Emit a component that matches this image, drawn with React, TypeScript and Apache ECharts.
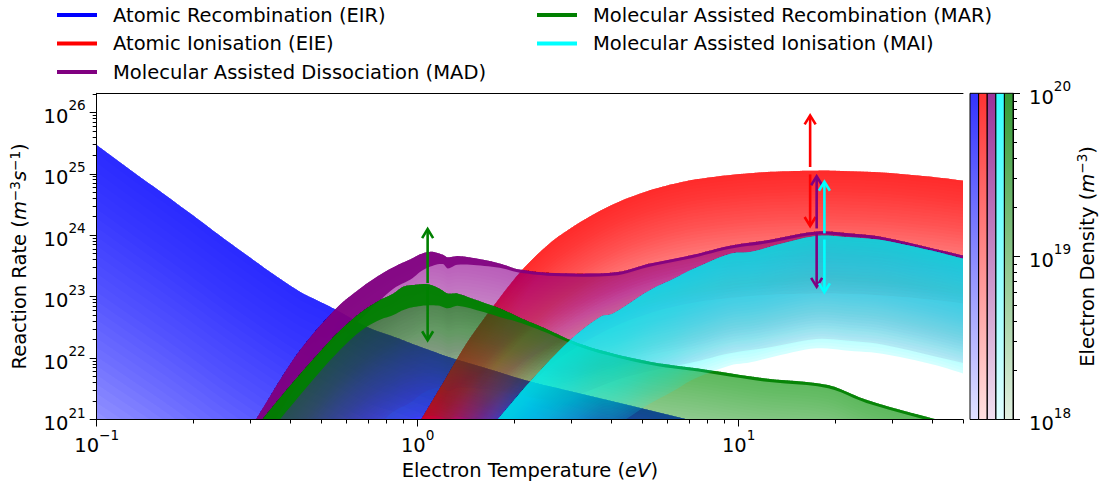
import React, { useEffect, useRef } from 'react';
import * as echarts from 'echarts';

const FONT = "'DejaVu Sans', sans-serif";

// ---------- data (Te in eV, rates as log10 of m^-3 s^-1) ----------
// HI: upper edge (ne = 1e20), MID: lower edge of the dark top band, LO: lower edge (ne = 1e18)
const EIR_TE = [0.1, 0.13, 0.16, 0.2, 0.25, 0.3, 0.35, 0.43, 0.5, 0.56, 0.7, 0.85, 1.0, 1.28, 1.6, 2.24, 3, 4.5, 6.7, 10];
const EIR_HI = [25.47, 25.03, 24.69, 24.32, 23.94, 23.64, 23.39, 23.08, 22.91, 22.78, 22.5, 22.34, 22.2, 22.0, 21.85, 21.62, 21.46, 21.24, 21.02, 20.8];
const EIR_LO = [19.47, 19.1, 18.8, 18.45, 18.1, 17.85, 17.65, 17.4, 17.3, 17.2, 17.0, 16.9, 16.8, 16.7, 16.6, 16.5, 16.4, 16.3, 16.2, 16.0];

const EIE_TE = [0.95, 1.03, 1.2, 1.42, 1.7, 2.11, 2.58, 2.91, 3.5, 4.17, 4.7, 5.6, 6.7, 7.6, 9.4, 11.5, 13.8, 17, 20, 28, 40, 50];
const EIE_HI = [20.71, 21.02, 21.6, 22.24, 22.81, 23.43, 23.87, 24.07, 24.33, 24.53, 24.64, 24.77, 24.87, 24.92, 24.98, 25.02, 25.04, 25.05, 25.05, 25.02, 24.95, 24.89];
const EIE_LO = [18.71, 19.02, 19.6, 20.24, 20.81, 21.43, 21.87, 22.07, 22.33, 22.53, 22.64, 22.77, 22.87, 22.92, 22.98, 23.02, 23.04, 23.05, 23.05, 23.02, 22.95, 22.89];

const MAD_TE = [0.29, 0.315, 0.415, 0.55, 0.66, 0.75, 0.84, 0.95, 1.03, 1.11, 1.2, 1.24, 1.33, 1.53, 1.8, 2.08, 2.8, 4.2, 5.2, 7.2, 9.4, 12, 17.5, 22, 28, 50];
const MAD_HI = [20.72, 21.02, 22.02, 22.78, 23.13, 23.33, 23.48, 23.61, 23.7, 23.73, 23.68, 23.64, 23.66, 23.62, 23.54, 23.44, 23.38, 23.4, 23.53, 23.68, 23.83, 23.91, 24.06, 24.03, 23.97, 23.67];
const MAD_MID = [20.2, 20.5, 21.5, 22.28, 22.62, 22.9, 23.13, 23.28, 23.42, 23.5, 23.53, 23.46, 23.52, 23.51, 23.47, 23.39, 23.33, 23.35, 23.48, 23.63, 23.78, 23.86, 24.01, 23.98, 23.92, 23.62];
const MAD_LO = [18.2, 18.5, 19.5, 20.28, 20.62, 20.9, 21.13, 21.28, 21.42, 21.5, 21.53, 21.46, 21.52, 21.51, 21.47, 21.39, 21.33, 21.65, 21.78, 21.93, 22.08, 22.16, 22.31, 22.28, 22.22, 21.92];

const MAR_TE = [0.3, 0.33, 0.4, 0.48, 0.56, 0.66, 0.76, 0.84, 0.9, 0.97, 1.08, 1.17, 1.24, 1.33, 1.53, 1.8, 2.1, 2.5, 3, 3.7, 5.3, 7.5, 12, 19, 25, 40, 50];
const MAR_HI = [20.75, 21.02, 21.55, 22.02, 22.4, 22.73, 22.94, 23.05, 23.16, 23.19, 23.2, 23.13, 23.05, 23.05, 22.94, 22.81, 22.65, 22.48, 22.29, 22.13, 21.94, 21.83, 21.67, 21.56, 21.32, 21.02, 20.9];
const MAR_MID = [20.4, 20.67, 21.2, 21.69, 22.08, 22.43, 22.62, 22.7, 22.78, 22.83, 22.86, 22.85, 22.81, 22.85, 22.78, 22.67, 22.57, 22.42, 22.24, 22.08, 21.89, 21.78, 21.62, 21.51, 21.27, 20.97, 20.85];
const MAR_LO = [18.6, 18.87, 19.4, 19.89, 20.28, 20.63, 20.82, 20.9, 20.98, 21.03, 21.06, 21.05, 21.01, 21.05, 20.98, 20.87, 20.77, 20.62, 20.44, 20.28, 20.09, 19.98, 19.82, 19.71, 19.47, 19.17, 19.05];

const MAI_TE = [1.68, 1.8, 2.24, 2.98, 3.7, 4.07, 5.3, 6.2, 7.2, 9.4, 10.9, 13.5, 17.5, 22, 28, 40, 50];
const MAI_HI = [20.87, 21.04, 21.62, 22.29, 22.67, 22.73, 23.11, 23.28, 23.45, 23.7, 23.73, 23.86, 23.99, 23.97, 23.92, 23.75, 23.62];
const MAI_LO = [19.0, 19.2, 19.77, 20.44, 20.82, 20.88, 21.26, 21.45, 21.65, 21.88, 21.93, 22.05, 22.16, 22.12, 22.07, 21.9, 21.75];

// double arrows (each drawn as two single-headed arrows)
const ARROW_TE = [1.074, 1.074, 16.7, 16.7, 17.5, 17.5, 18.5, 18.5];
const ARROW_FROM = [23.22, 23.16, 25.11, 24.99, 24.11, 24.03, 24.03, 23.93];
const ARROW_TO = [24.1, 22.29, 25.95, 24.15, 24.96, 23.16, 24.87, 23.07];
const ARROW_PROC = ['MAR', 'MAR', 'EIE', 'EIE', 'MAD', 'MAD', 'MAI', 'MAI'];

// axes
const X_TICKS = [-1, 0, 1];
const Y_TICKS = [21, 22, 23, 24, 25, 26];
const CB_TICKS = [18, 19, 20];
const CB_ORDER = ['EIR', 'EIE', 'MAD', 'MAI', 'MAR'];

const NAMES: Record<string, string> = {
  EIR: 'Atomic Recombination (EIR)',
  EIE: 'Atomic Ionisation (EIE)',
  MAD: 'Molecular Assisted Dissociation (MAD)',
  MAR: 'Molecular Assisted Recombination (MAR)',
  MAI: 'Molecular Assisted Ionisation (MAI)',
};

const RGB: Record<string, number[]> = {
  EIR: [0, 0, 255],
  EIE: [255, 0, 0],
  MAD: [128, 0, 128],
  MAR: [0, 128, 0],
  MAI: [0, 255, 255],
};

const X_MIN = -1;
const X_MAX = Math.log10(50);
const Y_MIN = 21;
const Y_MAX = 26.31;

const rgba = (c: number[], a: number) => `rgba(${c[0]},${c[1]},${c[2]},${a})`;

function minorTicks(decades: number[], max: number) {
  const out: number[] = [];
  decades.forEach((e) => {
    for (let k = 2; k <= 9; k++) {
      const v = e + Math.log10(k);
      if (v <= max + 1e-9) out.push(v);
    }
  });
  return out;
}

const supLabel = (v: number) => {
  const n = Math.round(v);
  const s = n < 0 ? '\u2212' + Math.abs(n) : String(n);
  return `{b|10}{s|${s}}`;
};

const TICK_RICH = {
  b: { fontFamily: FONT, fontSize: 19.5, lineHeight: 28, verticalAlign: 'bottom', color: '#000' },
  s: { fontFamily: FONT, fontSize: 13.6, lineHeight: 14, verticalAlign: 'top', color: '#000' },
};

const NAME_RICH = {
  n: { fontFamily: FONT, fontSize: 19.5, lineHeight: 22, verticalAlign: 'bottom', color: '#000' },
  i: { fontFamily: FONT, fontSize: 19.5, lineHeight: 22, verticalAlign: 'bottom', fontStyle: 'italic', color: '#000' },
  s: { fontFamily: FONT, fontSize: 13.6, lineHeight: 12, verticalAlign: 'top', color: '#000' },
};

// Smooth rendering of a curve given at the read points (cubic Hermite in log-log space,
// purely a drawing aid like a smoothed line; the data points themselves are untouched).
function smoothCurve(xs: number[], ys: number[], steps: number) {
  const n = xs.length;
  const m: number[] = [];
  for (let i = 0; i < n; i++) {
    const a = Math.max(0, i - 1);
    const b = Math.min(n - 1, i + 1);
    m.push((ys[b] - ys[a]) / (xs[b] - xs[a]));
  }
  const out: number[][] = [];
  for (let i = 0; i < n - 1; i++) {
    const h = xs[i + 1] - xs[i];
    for (let s = 0; s < steps; s++) {
      const t = s / steps;
      const t2 = t * t;
      const t3 = t2 * t;
      const h00 = 2 * t3 - 3 * t2 + 1;
      const h10 = t3 - 2 * t2 + t;
      const h01 = -2 * t3 + 3 * t2;
      const h11 = t3 - t2;
      out.push([xs[i] + t * h, h00 * ys[i] + h10 * h * m[i] + h01 * ys[i + 1] + h11 * h * m[i + 1]]);
    }
  }
  out.push([xs[n - 1], ys[n - 1]]);
  return out;
}

function bandRender(te: number[], hi: number[], lo: number[], mid: number[] | null, rgb: number[], K: number, a: number, base: number, darkA: number) {
  return (_params: any, api: any) => {
    const lx = te.map((t) => Math.log10(t));
    const STEPS = 6;
    const top = smoothCurve(lx, hi, STEPS).map((p) => api.coord(p));
    const bottom = smoothCurve(lx, lo, STEPS).map((p) => api.coord(p));
    const children: any[] = [];
    const layer = (f: number) =>
      top.map((p, i) => [p[0], p[1] + f * (bottom[i][1] - p[1])]).reverse();
    children.push({ type: 'polygon', silent: true, shape: { points: top.concat(layer(1)) }, style: { fill: rgba(rgb, base), stroke: null } });
    for (let j = 1; j <= K; j++) {
      children.push({ type: 'polygon', silent: true, shape: { points: top.concat(layer(j / K)) }, style: { fill: rgba(rgb, a), stroke: null } });
    }
    if (mid) {
      const midPts = smoothCurve(lx, mid, STEPS).map((p) => api.coord(p)).reverse();
      children.push({ type: 'polygon', silent: true, shape: { points: top.concat(midPts) }, style: { fill: rgba(rgb, darkA), stroke: null } });
    }
    return { type: 'group', children };
  };
}

function bandSeries(key: string, te: number[], hi: number[], lo: number[], mid: number[] | null, K: number, a: number, base: number, darkA: number) {
  return {
    type: 'custom',
    name: NAMES[key],
    xAxisIndex: 0,
    yAxisIndex: 0,
    clip: true,
    silent: true,
    itemStyle: { color: rgba(RGB[key], 1) },
    data: [[0, 23]],
    renderItem: bandRender(te, hi, lo, mid, RGB[key], K, a, base, darkA),
  };
}

export default function App() {
  const ref = useRef<HTMLDivElement>(null);

  useEffect(() => {
    if (!ref.current) return;
    const chart = echarts.init(ref.current, undefined, { renderer: 'svg' });

    const X_MINOR = minorTicks([-1, 0, 1], X_MAX);
    const Y_MINOR = minorTicks([21, 22, 23, 24, 25, 26], Y_MAX);
    const CB_MINOR = minorTicks([18, 19], 20);

    const axisLine = { show: true, onZero: false, lineStyle: { color: '#000', width: 1 } };
    const noLine = { show: false, onZero: false };
    const legendText = { fontFamily: FONT, fontSize: 19.5, color: '#000', lineHeight: 20, padding: [0, 0, 0, 11] };

    const option: any = {
      animation: false,
      backgroundColor: '#fff',
      textStyle: { fontFamily: FONT },
      legend: [
        {
          data: [NAMES.EIR, NAMES.EIE, NAMES.MAD],
          orient: 'vertical', left: 57, top: 5, padding: 0, itemWidth: 40, itemHeight: 4, itemGap: 8.5,
          icon: 'rect', selectedMode: false, textStyle: legendText,
        },
        {
          data: [NAMES.MAR, NAMES.MAI],
          orient: 'vertical', left: 537, top: 5, padding: 0, itemWidth: 40, itemHeight: 4, itemGap: 8.5,
          icon: 'rect', selectedMode: false, textStyle: legendText,
        },
      ],
      grid: [
        { left: 96.7, right: 140, top: 93.3, bottom: 68.5, containLabel: false, outerBoundsMode: 'none' },
        { left: 970, right: 90, top: 93.3, bottom: 68.5, containLabel: false, outerBoundsMode: 'none' },
      ],
      xAxis: [
        {
          type: 'value', gridIndex: 0, min: X_MIN, max: X_MAX, position: 'bottom', z: 10,
          axisLine,
          axisTick: { show: true, customValues: X_TICKS, length: 7, lineStyle: { color: '#000', width: 1 } },
          axisLabel: { show: true, customValues: X_TICKS, formatter: supLabel, rich: TICK_RICH, margin: 8 },
          splitLine: { show: false },
          name: '{n|Electron Temperature (}{i|eV}{n|)}',
          nameLocation: 'middle', nameGap: 37,
          nameTextStyle: { rich: NAME_RICH },
        },
        {
          type: 'value', gridIndex: 0, min: X_MIN, max: X_MAX, position: 'bottom', z: 10,
          axisLine: noLine,
          axisTick: { show: true, customValues: X_MINOR, length: 4, lineStyle: { color: '#000', width: 1 } },
          axisLabel: { show: false },
          splitLine: { show: false },
        },
        {
          type: 'value', gridIndex: 0, min: X_MIN, max: X_MAX, position: 'top', z: 10,
          axisLine,
          axisTick: { show: false },
          axisLabel: { show: false },
          splitLine: { show: false },
        },
        {
          type: 'value', gridIndex: 1, min: 0, max: 5, show: false,
          axisLine: noLine,
        },
      ],
      yAxis: [
        {
          type: 'value', gridIndex: 0, min: Y_MIN, max: Y_MAX, position: 'left', z: 10,
          axisLine,
          axisTick: { show: true, customValues: Y_TICKS, length: 7, lineStyle: { color: '#000', width: 1 } },
          axisLabel: { show: true, customValues: Y_TICKS, formatter: supLabel, rich: TICK_RICH, margin: 11 },
          splitLine: { show: false },
          name: '{n|Reaction Rate (}{i|m}{s|\u22123}{i|s}{s|\u22121}{n|)}',
          nameLocation: 'middle', nameGap: 67, nameRotate: 90,
          nameTextStyle: { rich: NAME_RICH },
        },
        {
          type: 'value', gridIndex: 0, min: Y_MIN, max: Y_MAX, position: 'left', z: 10,
          axisLine: noLine,
          axisTick: { show: true, customValues: Y_MINOR, length: 4, lineStyle: { color: '#000', width: 1 } },
          axisLabel: { show: false },
          splitLine: { show: false },
        },
        {
          type: 'value', gridIndex: 1, min: 18, max: 20, position: 'right', z: 10,
          axisLine,
          axisTick: { show: true, customValues: CB_TICKS, length: 7, lineStyle: { color: '#000', width: 1 } },
          axisLabel: { show: true, customValues: CB_TICKS, formatter: supLabel, rich: TICK_RICH, margin: 16 },
          splitLine: { show: false },
          name: '{n|Electron Density (}{i|m}{s|\u22123}{n|)}',
          nameLocation: 'middle', nameGap: 61, nameRotate: 90,
          nameTextStyle: { rich: NAME_RICH },
        },
        {
          type: 'value', gridIndex: 1, min: 18, max: 20, position: 'right', z: 10,
          axisLine: noLine,
          axisTick: { show: true, customValues: CB_MINOR, length: 4, lineStyle: { color: '#000', width: 1 } },
          axisLabel: { show: false },
          splitLine: { show: false },
        },
      ],
      series: [
        bandSeries('EIR', EIR_TE, EIR_HI, EIR_LO, null, 40, 0.0364, 0.12, 0),
        bandSeries('EIE', EIE_TE, EIE_HI, EIE_LO, null, 40, 0.0364, 0.12, 0),
        bandSeries('MAD', MAD_TE, MAD_HI, MAD_LO, MAD_MID, 40, 0.0189, 0.08, 0.9),
        bandSeries('MAR', MAR_TE, MAR_HI, MAR_LO, MAR_MID, 40, 0.0189, 0.08, 0.92),
        bandSeries('MAI', MAI_TE, MAI_HI, MAI_LO, null, 40, 0.0364, 0.14, 0),
        {
          type: 'custom',
          xAxisIndex: 0,
          yAxisIndex: 0,
          silent: true,
          z: 5,
          data: ARROW_TE.map((t, i) => [Math.log10(t), ARROW_FROM[i], ARROW_TO[i], i]),
          renderItem: (_p: any, api: any) => {
            const x = api.value(0);
            const p0 = api.coord([x, api.value(1)]);
            const p1 = api.coord([x, api.value(2)]);
            const idx = api.value(3);
            const color = rgba(RGB[ARROW_PROC[idx]], 1);
            const dir = p1[1] > p0[1] ? 1 : -1;
            const hl = 9;
            const hw = 5.5;
            return {
              type: 'group',
              children: [
                { type: 'line', shape: { x1: p0[0], y1: p0[1], x2: p1[0], y2: p1[1] - dir * 1.5 }, style: { stroke: color, lineWidth: 2.6 } },
                {
                  type: 'polyline',
                  shape: { points: [[p1[0] - hw, p1[1] - dir * hl], [p1[0], p1[1]], [p1[0] + hw, p1[1] - dir * hl]] },
                  style: { stroke: color, lineWidth: 2.6, fill: null, lineJoin: 'miter' },
                },
              ],
            };
          },
        },
        {
          type: 'custom',
          xAxisIndex: 3,
          yAxisIndex: 2,
          silent: true,
          z: 3,
          data: CB_ORDER.map((_k, i) => [i, 19]),
          renderItem: (_p: any, api: any) => {
            const i = api.value(0);
            const a = api.coord([i, 20]);
            const b = api.coord([i + 1, 18]);
            const c = RGB[CB_ORDER[i]];
            return {
              type: 'rect',
              shape: { x: a[0], y: a[1], width: b[0] - a[0], height: b[1] - a[1] },
              style: {
                fill: new echarts.graphic.LinearGradient(0, 0, 0, 1, [
                  { offset: 0, color: rgba(c, 0.8) },
                  { offset: 1, color: rgba(c, 0.12) },
                ]),
                stroke: '#000',
                lineWidth: 1,
              },
            };
          },
        },
      ],
    };

    chart.setOption(option);
    return () => chart.dispose();
  }, []);

  return (
    <div
      ref={ref}
      style={{ position: 'fixed', left: 0, top: 0, width: 1103, height: 488, background: '#fff' }}
    />
  );
}
